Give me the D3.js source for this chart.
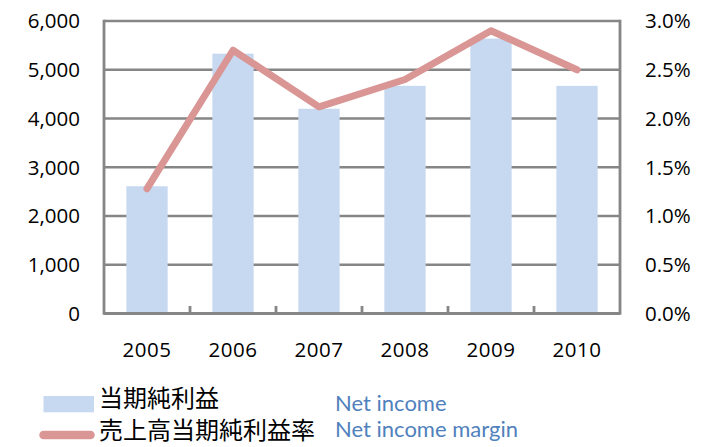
<!DOCTYPE html>
<html>
<head>
<meta charset="utf-8">
<script src="https://cdn.jsdelivr.net/npm/d3@7"></script>
<style>
  html, body { margin: 0; padding: 0; background: #fff; }
  svg { display: block; }
</style>
</head>
<body>
<svg id="chart" width="711" height="447"></svg>
<script>
// Fiscal years
const years = ["2005", "2006", "2007", "2008", "2009", "2010"];
// Net income (left axis)
const netIncome = [2610, 5330, 4200, 4670, 5640, 4670];
// Net income margin, % (right axis)
const netMargin = [1.28, 2.70, 2.12, 2.40, 2.90, 2.50];
// Axis tick values
const leftTicks = [0, 1000, 2000, 3000, 4000, 5000, 6000];
const rightTicks = [0, 0.5, 1.0, 1.5, 2.0, 2.5, 3.0];
// Legend labels
const legendJa = ["当期純利益", "売上高当期純利益率"];
const legendEn = ["Net income", "Net income margin"];

const svg = d3.select("#chart");
const plot = { left: 104, right: 620, top: 21, bottom: 313.5 };
const gridColor = "#868686";
const barColor = "#C6D9F1";
const lineColor = "#D99694";
const numFont = "'Open Sans', sans-serif";
const enFont = "Lato, 'Open Sans', sans-serif";
const jaFont = "'Noto Sans CJK JP', sans-serif";

const x = d3.scaleBand().domain(years)
  .range([plot.left, plot.right]).paddingInner(0.52).paddingOuter(0.26);
const xStep = d3.scaleBand().domain(years).range([plot.left, plot.right]);
const yL = d3.scaleLinear().domain([0, 6000]).range([plot.bottom, plot.top]);
const yR = d3.scaleLinear().domain([0, 3]).range([plot.bottom, plot.top]);

// Horizontal gridlines
svg.append("g").selectAll("line").data(leftTicks.filter(d => d > 0)).join("line")
  .attr("x1", plot.left).attr("x2", plot.right)
  .attr("y1", d => yL(d)).attr("y2", d => yL(d))
  .attr("stroke", gridColor).attr("stroke-width", 2.6);

// Bars
svg.append("g").selectAll("rect").data(years).join("rect")
  .attr("x", d => x(d))
  .attr("width", x.bandwidth())
  .attr("y", (d, i) => yL(netIncome[i]))
  .attr("height", (d, i) => plot.bottom - yL(netIncome[i]))
  .attr("fill", barColor);

// Axes frame: left, right, bottom
const frame = svg.append("g").attr("stroke", gridColor).attr("stroke-width", 2.8).attr("fill", "none");
frame.append("line").attr("x1", plot.left).attr("x2", plot.left).attr("y1", plot.top - 1.3).attr("y2", plot.bottom + 1.3);
frame.append("line").attr("x1", plot.right).attr("x2", plot.right).attr("y1", plot.top - 1.3).attr("y2", plot.bottom + 1.3);
frame.append("line").attr("x1", plot.left).attr("x2", plot.right).attr("y1", plot.bottom).attr("y2", plot.bottom);

// Category boundary ticks on the x axis
const boundaries = years.slice(1).map(d => xStep(d));
frame.selectAll("line.tick").data(boundaries).join("line").attr("class", "tick")
  .attr("x1", d => d).attr("x2", d => d)
  .attr("y1", plot.bottom).attr("y2", plot.bottom - 7.5);

// Margin line
const line = d3.line()
  .x((d, i) => x(years[i]) + x.bandwidth() / 2)
  .y(d => yR(d));
svg.append("path").datum(netMargin)
  .attr("d", line)
  .attr("fill", "none")
  .attr("stroke", lineColor)
  .attr("stroke-width", 7)
  .attr("stroke-linejoin", "round")
  .attr("stroke-linecap", "round");

// Left axis labels
svg.append("g").selectAll("text").data(leftTicks).join("text")
  .attr("x", 80).attr("y", d => yL(d)).attr("dy", "0.36em")
  .attr("text-anchor", "end")
  .attr("font-family", numFont).attr("font-size", 20.5).attr("fill", "#000")
  .text(d3.format(","));

// Right axis labels
svg.append("g").selectAll("text").data(rightTicks).join("text")
  .attr("x", 645).attr("y", d => yR(d)).attr("dy", "0.36em")
  .attr("text-anchor", "start")
  .attr("font-family", numFont).attr("font-size", 20.5).attr("fill", "#000")
  .text(d => d3.format(".1f")(d) + "%");

// Category labels
svg.append("g").selectAll("text").data(years).join("text")
  .attr("x", d => x(d) + x.bandwidth() / 2).attr("y", 357)
  .attr("text-anchor", "middle")
  .attr("font-family", numFont).attr("font-size", 20.5).attr("fill", "#000")
  .attr("letter-spacing", 0.5)
  .text(d => d);

// Legend
const legend = svg.append("g");
legend.append("rect").attr("x", 43.5).attr("y", 396).attr("width", 50.5).attr("height", 16.3).attr("fill", barColor);
legend.append("line").attr("x1", 43.5).attr("x2", 90.5).attr("y1", 435).attr("y2", 435)
  .attr("stroke", lineColor).attr("stroke-width", 8.5).attr("stroke-linecap", "round");
legend.selectAll("text.ja").data(legendJa).join("text").attr("class", "ja")
  .attr("x", 99).attr("y", (d, i) => [398, 430][i]).attr("dy", "0.36em")
  .attr("font-family", jaFont).attr("font-size", 24).attr("fill", "#000")
  .text(d => d);
legend.selectAll("text.en").data(legendEn).join("text").attr("class", "en")
  .attr("x", 335).attr("y", (d, i) => [410.7, 436.7][i])
  .attr("font-family", enFont).attr("font-size", 22).attr("fill", "#4F81BD")
  .text(d => d);
</script>
</body>
</html>
